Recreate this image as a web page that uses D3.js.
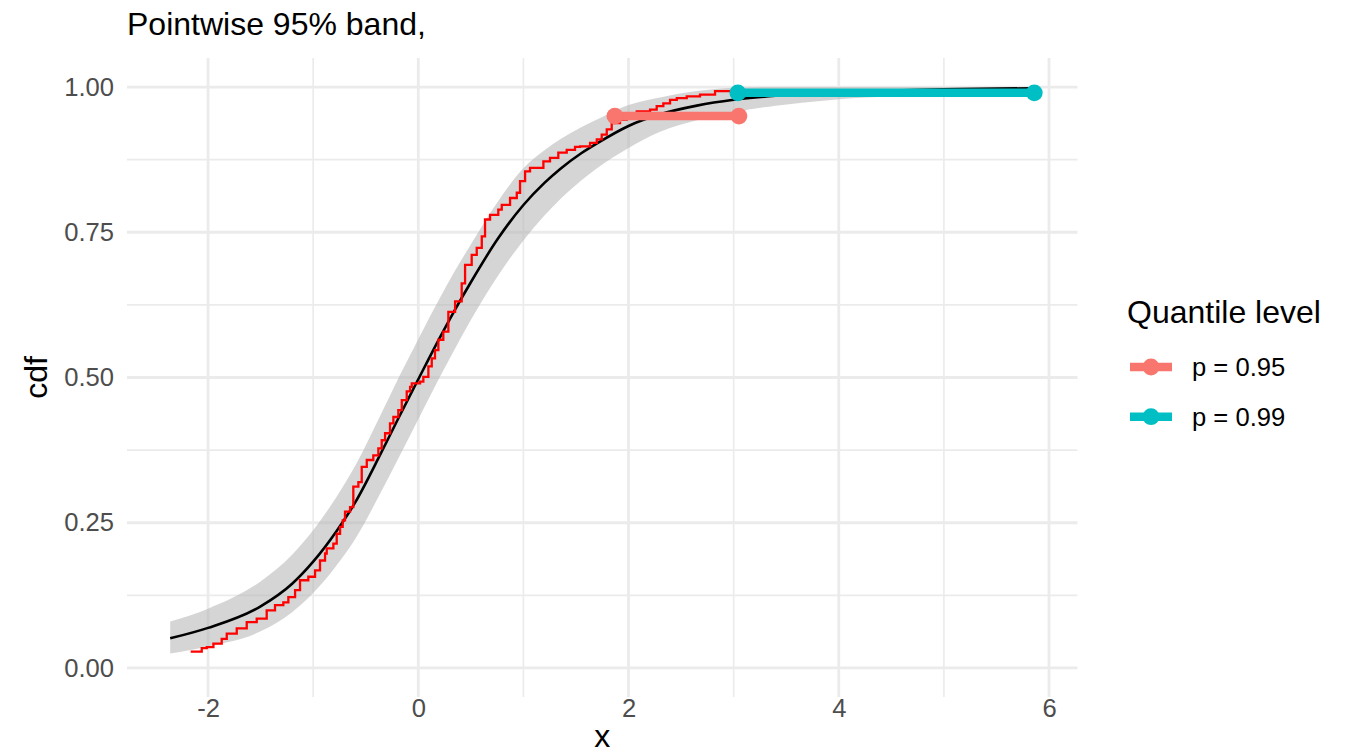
<!DOCTYPE html>
<html>
<head>
<meta charset="utf-8">
<script src="https://cdn.jsdelivr.net/npm/d3@7"></script>
<style>
  body { margin: 0; background: #ffffff; }
  text { font-family: "Liberation Sans", Arial, Helvetica, sans-serif; }
</style>
</head>
<body>
<svg id="chart" width="1345" height="754"></svg>
<script>
// Fitted CDF on a grid of x values, with its pointwise 95% band
const gridX  = [-2.36, -2.0, -1.5, -1.2, -1.0, -0.78, -0.6, -0.36, -0.2, 0, 0.2, 0.35, 0.5, 0.75, 1.0, 1.2, 1.35, 1.55, 1.7, 2.0, 2.3, 2.65, 3.0, 3.4, 3.65, 4.0, 4.5, 5.0, 5.86];
const fitCdf = [0.051, 0.069, 0.106, 0.145, 0.183, 0.235, 0.285, 0.368, 0.426, 0.497, 0.567, 0.617, 0.664, 0.737, 0.797, 0.835, 0.859, 0.886, 0.903, 0.933, 0.953, 0.968, 0.978, 0.985, 0.988, 0.991, 0.994, 0.996, 0.998];
const bandLo = [0.025, 0.037, 0.063, 0.096, 0.129, 0.176, 0.222, 0.301, 0.357, 0.428, 0.499, 0.550, 0.599, 0.673, 0.736, 0.779, 0.807, 0.839, 0.860, 0.895, 0.923, 0.943, 0.957, 0.968, 0.973, 0.979, 0.984, 0.988, 0.993];
const bandHi = [0.080, 0.102, 0.149, 0.195, 0.237, 0.294, 0.348, 0.435, 0.495, 0.566, 0.635, 0.684, 0.729, 0.801, 0.860, 0.891, 0.910, 0.931, 0.944, 0.969, 0.982, 0.993, 0.999, 1.0, 1.0, 1.0, 1.0, 1.0, 1.0];

// Empirical CDF: x where each step starts and the level after it
const ecdfX = [-2.165, -2.060, -2.012, -1.949, -1.870, -1.822, -1.727, -1.632, -1.537, -1.442, -1.363, -1.284, -1.236, -1.172, -1.125, -1.046, -0.982, -0.935, -0.887, -0.871, -0.808, -0.776, -0.744, -0.719, -0.697, -0.649, -0.618, -0.570, -0.538, -0.490, -0.428, -0.380, -0.348, -0.316, -0.269, -0.237, -0.190, -0.157, -0.110, -0.078, -0.062, 0.017, 0.048, 0.096, 0.128, 0.159, 0.191, 0.238, 0.286, 0.350, 0.413, 0.445, 0.508, 0.556, 0.604, 0.635, 0.683, 0.761, 0.794, 0.873, 0.937, 0.968, 1.016, 1.063, 1.190, 1.253, 1.332, 1.412, 1.491, 1.539, 1.634, 1.698, 1.745, 1.793, 1.840, 1.919, 1.983, 2.078, 2.205, 2.268, 2.331, 2.395, 2.459, 2.554, 2.680, 2.823, 2.994, 3.04];
const ecdfY = [0.028, 0.034, 0.036, 0.042, 0.050, 0.059, 0.068, 0.079, 0.085, 0.099, 0.108, 0.113, 0.122, 0.134, 0.151, 0.157, 0.168, 0.185, 0.197, 0.206, 0.214, 0.231, 0.243, 0.254, 0.269, 0.277, 0.312, 0.320, 0.346, 0.358, 0.366, 0.378, 0.392, 0.404, 0.421, 0.432, 0.444, 0.461, 0.476, 0.484, 0.490, 0.493, 0.501, 0.519, 0.533, 0.547, 0.565, 0.579, 0.613, 0.631, 0.662, 0.694, 0.711, 0.723, 0.743, 0.772, 0.780, 0.789, 0.797, 0.809, 0.818, 0.838, 0.855, 0.861, 0.872, 0.878, 0.887, 0.892, 0.897, 0.898, 0.904, 0.910, 0.918, 0.927, 0.938, 0.944, 0.950, 0.958, 0.961, 0.967, 0.972, 0.978, 0.981, 0.984, 0.987, 0.993, 0.997, 0.997];

// Quantile intervals, one per level
const quantLabels = ["p = 0.95", "p = 0.99"];
const quantP      = [0.95, 0.99];
const quantLo     = [1.87, 3.04];
const quantHi     = [3.05, 5.86];
const quantColors = ["#F8766D", "#00BFC4"];

// Axis ticks
const xTicks = [-2, 0, 2, 4, 6];
const xMinorTicks = [-1, 1, 3, 5];
const yTicks = [0, 0.25, 0.5, 0.75, 1];
const yMinorTicks = [0.125, 0.375, 0.625, 0.875];
const yTickLabels = ["0.00", "0.25", "0.50", "0.75", "1.00"];

const titleText = "Pointwise 95% band,";
const xTitle = "x";
const yTitle = "cdf";
const legendTitle = "Quantile level";

// Panel geometry
const panel = { left: 127, right: 1077.5, top: 58, bottom: 697 };

// Continuous scales with 5% padding on each side of the data range
function padded(lo, hi) { const d = (hi - lo) * 0.05; return [lo - d, hi + d]; }
const xMin = d3.min(gridX.concat(ecdfX, quantLo));
const xMax = d3.max(gridX.concat(ecdfX, quantHi));
const x = d3.scaleLinear().domain(padded(xMin, xMax)).range([panel.left, panel.right]);
const y = d3.scaleLinear().domain(padded(0, 1)).range([panel.bottom, panel.top]);

const svg = d3.select("#chart");
const gridColor = "#EBEBEB";

// Grid
const grid = svg.append("g");
grid.selectAll(".xminor").data(xMinorTicks).join("line")
  .attr("x1", d => x(d)).attr("x2", d => x(d))
  .attr("y1", panel.top).attr("y2", panel.bottom)
  .attr("stroke", gridColor).attr("stroke-width", 1.6);
grid.selectAll(".yminor").data(yMinorTicks).join("line")
  .attr("x1", panel.left).attr("x2", panel.right)
  .attr("y1", d => y(d)).attr("y2", d => y(d))
  .attr("stroke", gridColor).attr("stroke-width", 1.6);
grid.selectAll(".xmajor").data(xTicks).join("line")
  .attr("x1", d => x(d)).attr("x2", d => x(d))
  .attr("y1", panel.top).attr("y2", panel.bottom)
  .attr("stroke", gridColor).attr("stroke-width", 2.8);
grid.selectAll(".ymajor").data(yTicks).join("line")
  .attr("x1", panel.left).attr("x2", panel.right)
  .attr("y1", d => y(d)).attr("y2", d => y(d))
  .attr("stroke", gridColor).attr("stroke-width", 2.8);

// Band
const bandData = gridX.map((v, i) => ({ x: v, lo: bandLo[i], hi: bandHi[i] }));
svg.append("path")
  .datum(bandData)
  .attr("d", d3.area().x(d => x(d.x)).y0(d => y(d.lo)).y1(d => y(d.hi)).curve(d3.curveMonotoneX))
  .attr("fill", "#b3b3b3").attr("fill-opacity", 0.55);

// Fitted CDF
const fitData = gridX.map((v, i) => ({ x: v, y: fitCdf[i] }));
svg.append("path")
  .datum(fitData)
  .attr("d", d3.line().x(d => x(d.x)).y(d => y(d.y)).curve(d3.curveMonotoneX))
  .attr("fill", "none").attr("stroke", "#000000").attr("stroke-width", 2.6);

// Empirical CDF
const ecdfData = ecdfX.map((v, i) => ({ x: v, y: ecdfY[i] }));
svg.append("path")
  .datum(ecdfData)
  .attr("d", d3.line().x(d => x(d.x)).y(d => y(d.y)).curve(d3.curveStepAfter))
  .attr("fill", "none").attr("stroke", "#FF0000").attr("stroke-width", 2.3)
  .attr("stroke-linejoin", "miter");

// Quantile intervals
const quantData = quantP.map((p, i) => ({ p, lo: quantLo[i], hi: quantHi[i], color: quantColors[i] }));
const qg = svg.append("g");
qg.selectAll("line").data(quantData).join("line")
  .attr("x1", d => x(d.lo)).attr("x2", d => x(d.hi))
  .attr("y1", d => y(d.p)).attr("y2", d => y(d.p))
  .attr("stroke", d => d.color).attr("stroke-width", 8.5);
quantData.forEach(d => {
  qg.selectAll(null).data([d.lo, d.hi]).join("circle")
    .attr("cx", v => x(v)).attr("cy", y(d.p)).attr("r", 8.4)
    .attr("fill", d.color);
});

// Axes (labels only, no ticks or domain lines)
const yAxis = svg.append("g")
  .attr("transform", `translate(${panel.left - 13},0)`)
  .call(d3.axisLeft(y).tickValues(yTicks).tickSize(0).tickPadding(0)
    .tickFormat((d, i) => yTickLabels[i]));
yAxis.select(".domain").remove();
yAxis.selectAll("text").attr("font-size", "25.6px").attr("fill", "#4D4D4D")
  .attr("font-family", "Liberation Sans, Arial, sans-serif");

const xAxis = svg.append("g")
  .attr("transform", `translate(0,${panel.bottom + 2})`)
  .call(d3.axisBottom(x).tickValues(xTicks).tickSize(0).tickPadding(0)
    .tickFormat(d => String(d)));
xAxis.select(".domain").remove();
xAxis.selectAll("text").attr("font-size", "25.6px").attr("fill", "#4D4D4D")
  .attr("font-family", "Liberation Sans, Arial, sans-serif")
  .attr("dy", "0.71em");

// Titles
svg.append("text").attr("x", panel.left).attr("y", 35)
  .attr("font-size", "32px").attr("fill", "#000").text(titleText);
svg.append("text").attr("x", (panel.left + panel.right) / 2).attr("y", 747)
  .attr("text-anchor", "middle").attr("font-size", "32px").attr("fill", "#000").text(xTitle);
svg.append("text")
  .attr("transform", `translate(47,${(panel.top + panel.bottom) / 2}) rotate(-90)`)
  .attr("text-anchor", "middle").attr("font-size", "32px").attr("fill", "#000").text(yTitle);

// Legend
const legend = svg.append("g").attr("transform", "translate(1127,0)");
legend.append("text").attr("x", 0).attr("y", 323)
  .attr("font-size", "32px").attr("fill", "#000").text(legendTitle);
const keys = legend.selectAll(".key").data(quantData).join("g")
  .attr("transform", (d, i) => `translate(0,${367 + i * 49.7})`);
keys.append("line").attr("x1", 3).attr("x2", 45).attr("y1", 0).attr("y2", 0)
  .attr("stroke", d => d.color).attr("stroke-width", 8.5);
keys.append("circle").attr("cx", 24).attr("cy", 0).attr("r", 8.4).attr("fill", d => d.color);
keys.append("text").attr("x", 65).attr("y", 0).attr("dy", "0.36em")
  .attr("font-size", "25.6px").attr("fill", "#000").text((d, i) => quantLabels[i]);
</script>
</body>
</html>
